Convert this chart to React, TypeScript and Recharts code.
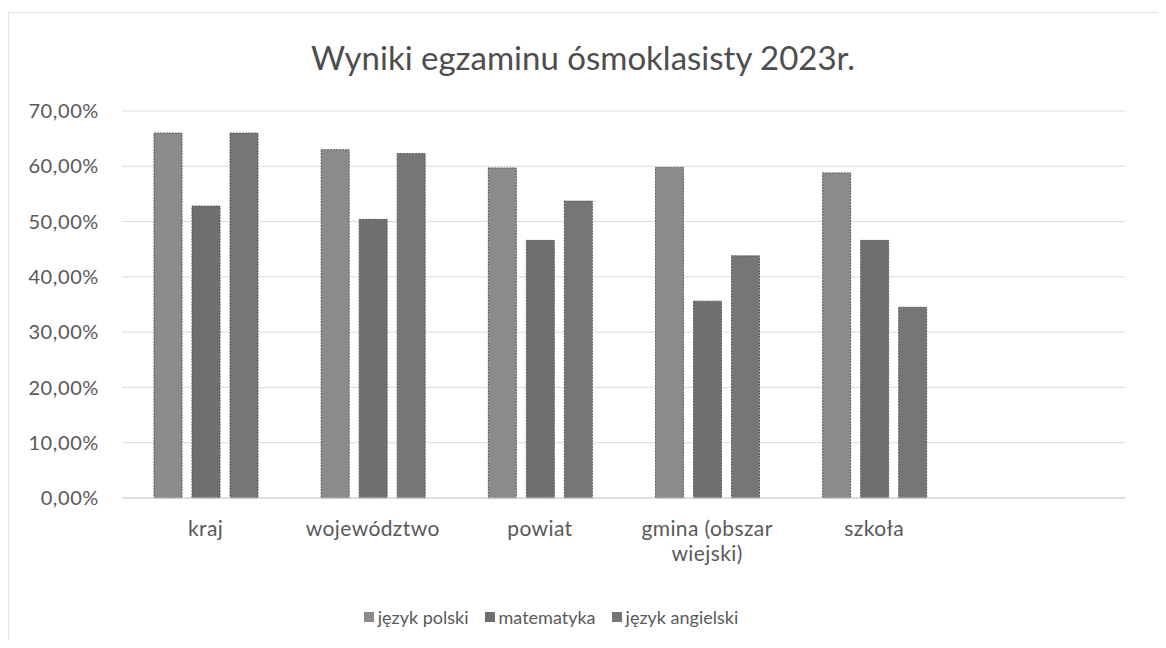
import { BarChart, Bar, XAxis, YAxis, CartesianGrid } from 'recharts'

// categories (last slot is empty in the original sheet)
const categories = ['kraj', 'województwo', 'powiat', 'gmina (obszar wiejski)', 'szkoła', '']

const seriesNames = ['język polski', 'matematyka', 'język angielski']
const seriesKeys = ['polski', 'matematyka', 'angielski']
const seriesColors = ['#8b8b8b', '#6f6f6f', '#767676']

const jezykPolski = [0.66, 0.63, 0.597, 0.598, 0.588, null]
const matematyka = [0.528, 0.504, 0.466, 0.356, 0.466, null]
const jezykAngielski = [0.66, 0.623, 0.537, 0.438, 0.345, null]

const yTicks = [0, 0.1, 0.2, 0.3, 0.4, 0.5, 0.6, 0.7]

const title = 'Wyniki egzaminu ósmoklasisty 2023r.'

const data = categories.map((name, i) => ({
    name,
    polski: jezykPolski[i],
    matematyka: matematyka[i],
    angielski: jezykAngielski[i],
}))

const FONT = 'Lato, "Open Sans", sans-serif'
const TEXT = '#595959'

const formatPct = (v: number) => (v * 100).toFixed(2).replace('.', ',') + '%'

// simple word wrap for long category names
function wrap(text: string, max = 14) {
    const words = text.split(' ')
    const lines: string[] = []
    let cur = ''
    for (const w of words) {
        if (cur && (cur + ' ' + w).length > max) {
            lines.push(cur)
            cur = w
        } else {
            cur = cur ? cur + ' ' + w : w
        }
    }
    if (cur) lines.push(cur)
    return lines
}

const CategoryTick = ({ x, y, payload }: any) => {
    const lines = wrap(payload.value || '')
    return (
        <text x={x} y={y} textAnchor="middle" fill={TEXT} fontSize={21} fontFamily={FONT} letterSpacing={0.4}>
            {lines.map((l, i) => (
                <tspan key={i} x={x} dy={i === 0 ? 30 : 25}>{l}</tspan>
            ))}
        </text>
    )
}

export default function App() {
    return (
        <div style={{ position: 'relative', width: 1150, height: 632 }}>
            <div
                style={{
                    position: 'absolute',
                    left: 0,
                    top: 4,
                    width: 1150,
                    height: 628,
                    borderLeft: '1px solid #e2e2e2',
                    borderTop: '1px solid #e2e2e2',
                }}
            />
            <div
                style={{
                    position: 'absolute',
                    left: 0,
                    top: 29,
                    width: 1150,
                    textAlign: 'center',
                    fontFamily: FONT,
                    fontSize: 33,
                    color: '#4d4d4d',
                }}
            >
                {title}
            </div>
            <BarChart
                width={1150}
                height={632}
                data={data}
                margin={{ top: 103, right: 33, left: 0, bottom: 112 }}
                barGap={10}
                barSize={28}
            >
                <CartesianGrid vertical={false} stroke="#dcdcdc" />
                <XAxis
                    dataKey="name"
                    height={30}
                    axisLine={{ stroke: '#d0d0d0' }}
                    tickLine={false}
                    interval={0}
                    tick={<CategoryTick />}
                />
                <YAxis
                    width={114}
                    domain={[0, 0.7]}
                    ticks={yTicks}
                    axisLine={false}
                    tickLine={false}
                    tickSize={0}
                    tickMargin={23}
                    tickFormatter={formatPct}
                    tick={{ fontSize: 20, fill: TEXT, fontFamily: FONT, letterSpacing: 0.6 }}
                />
                {seriesKeys.map((k, i) => (
                    <Bar
                        key={k}
                        dataKey={k}
                        name={seriesNames[i]}
                        fill={seriesColors[i]}
                        stroke="#5a5a5a"
                        strokeWidth={1}
                        strokeDasharray="2 1"
                        isAnimationActive={false}
                    />
                ))}
            </BarChart>
            <div
                style={{
                    position: 'absolute',
                    left: 0,
                    top: 598,
                    width: 1086,
                    display: 'flex',
                    justifyContent: 'center',
                    gap: 16,
                    fontFamily: FONT,
                    fontSize: 18,
                    color: TEXT,
                }}
            >
                {seriesNames.map((n, i) => (
                    <span key={n} style={{ display: 'flex', alignItems: 'center', gap: 4 }}>
                        <span style={{ width: 10, height: 10, background: seriesColors[i], display: 'inline-block' }} />
                        {n}
                    </span>
                ))}
            </div>
        </div>
    )
}
